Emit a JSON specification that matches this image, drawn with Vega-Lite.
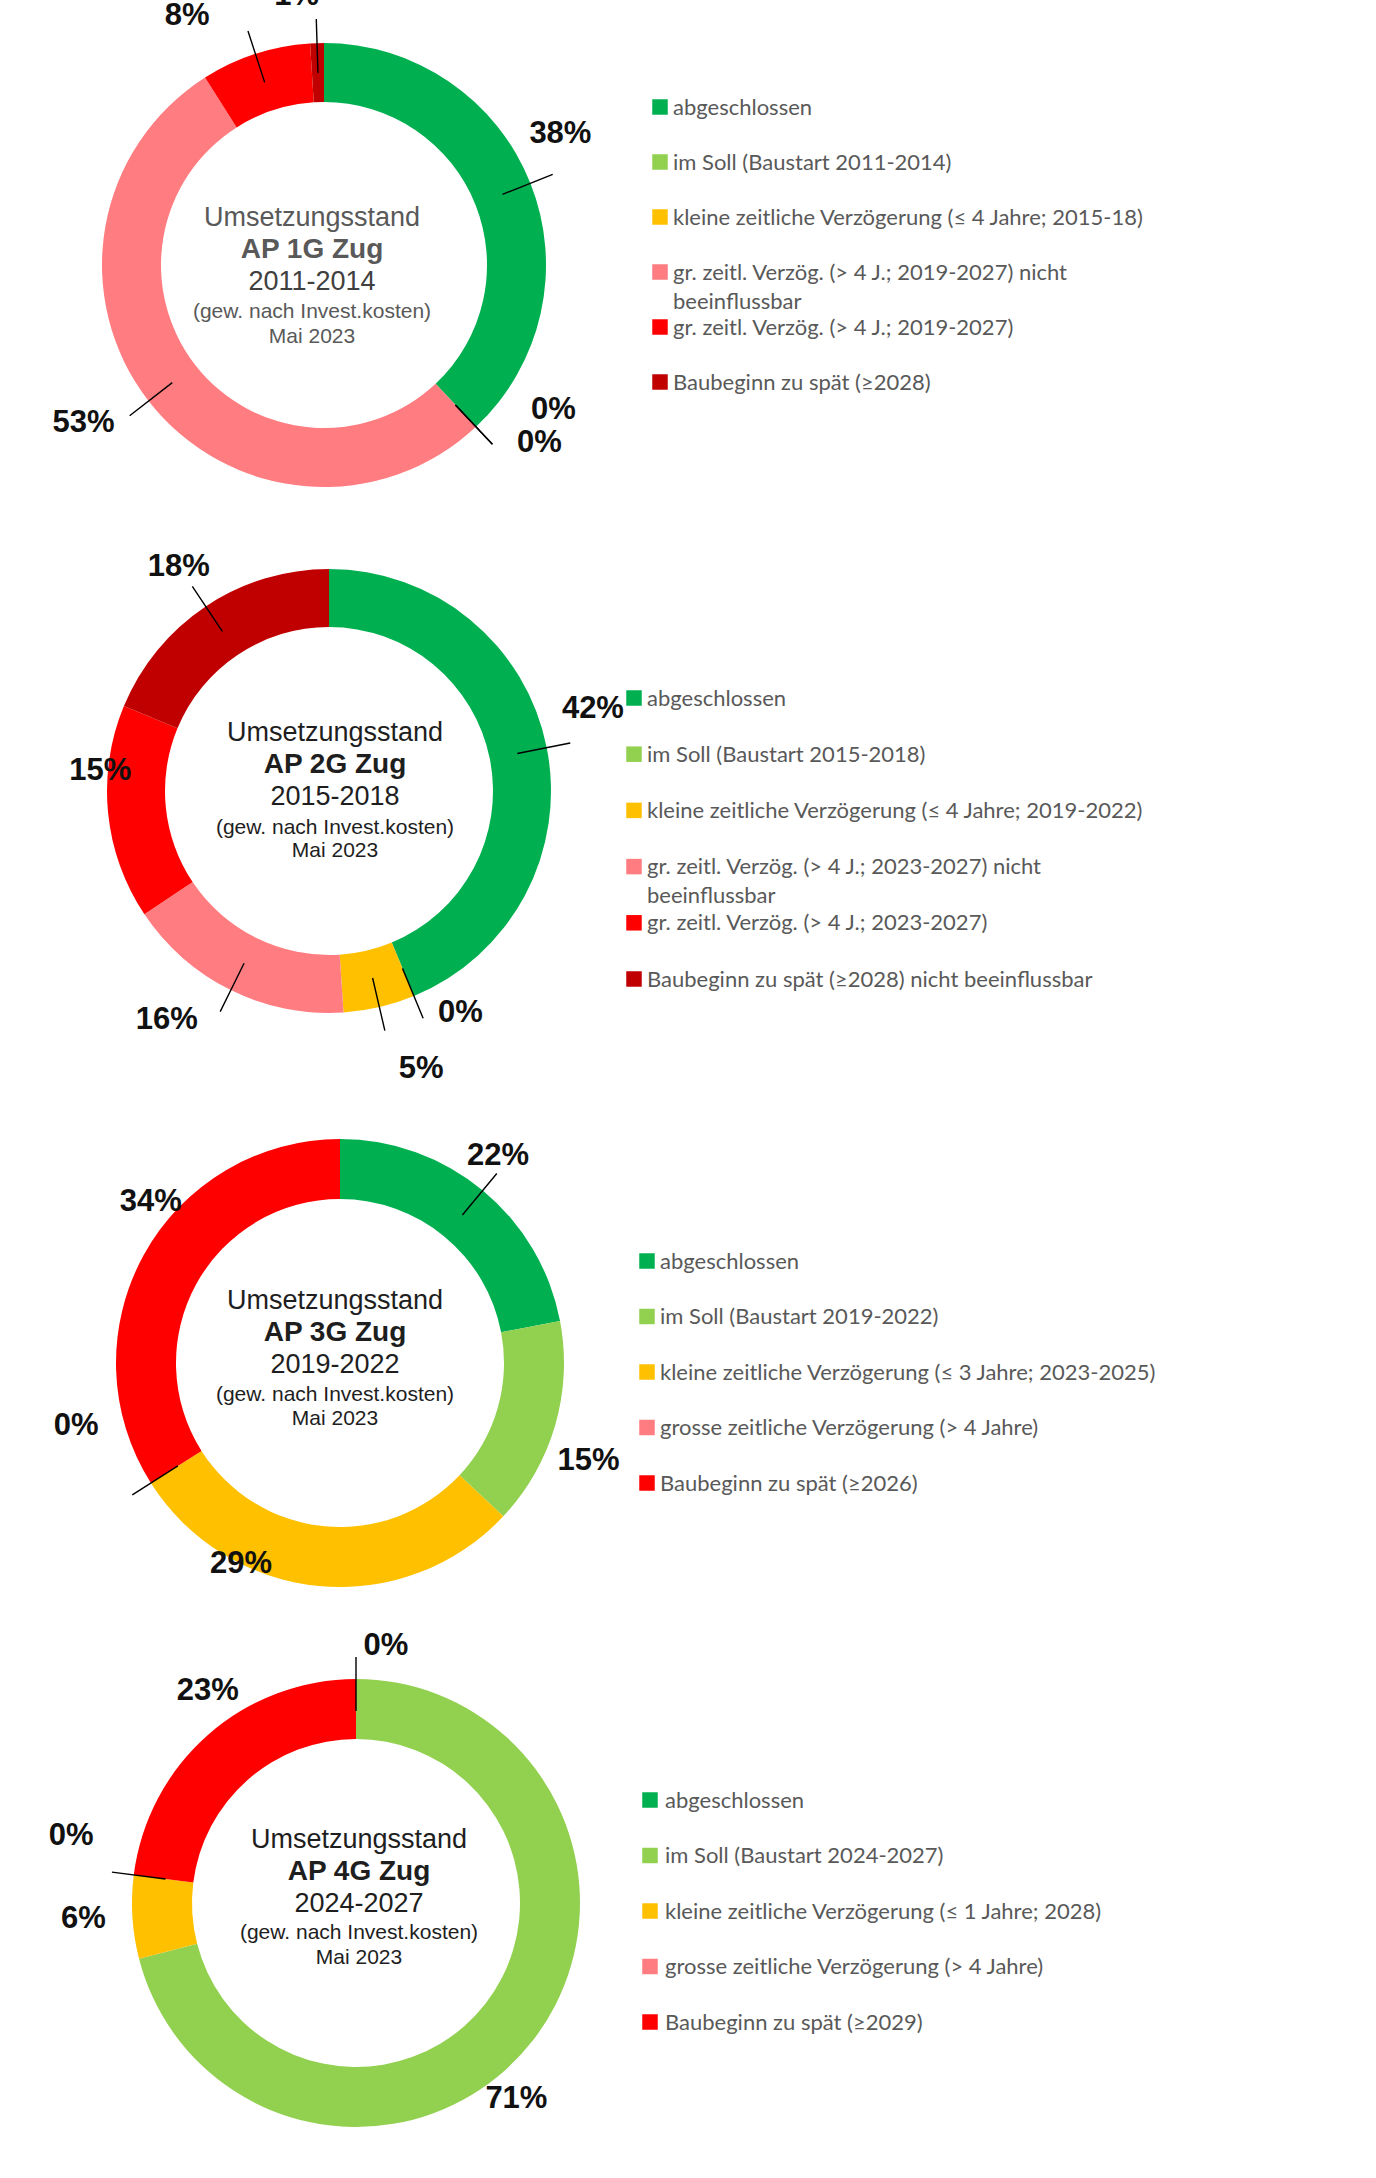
{
  "$schema": "https://vega.github.io/schema/vega-lite/v6.json",
  "background": "white",
  "padding": 0,
  "bounds": "flush",
  "spacing": 0,
  "config": {"view": {"stroke": null}, "concat": {"spacing": 0}},
  "resolve": {"scale": {"color": "independent", "theta": "independent", "y": "independent"}},
  "datasets": {
    "p1": [
      {"o": 1, "k": "abgeschlossen", "v": 38, "pct": "38%", "label": "abgeschlossen"},
      {"o": 2, "k": "im Soll", "v": 0, "pct": "0%", "label": "im Soll (Baustart 2011-2014)"},
      {"o": 3, "k": "kleine Verzögerung", "v": 0, "pct": "0%", "label": "kleine zeitliche Verzögerung (≤ 4 Jahre; 2015-18)"},
      {"o": 4, "k": "grosse Verzögerung nicht beeinflussbar", "v": 53, "pct": "53%", "label": "gr. zeitl. Verzög. (> 4 J.; 2019-2027) nicht\nbeeinflussbar"},
      {"o": 5, "k": "grosse Verzögerung", "v": 8, "pct": "8%", "label": "gr. zeitl. Verzög. (> 4 J.; 2019-2027)"},
      {"o": 6, "k": "Baubeginn zu spät", "v": 1, "pct": "1%", "label": "Baubeginn zu spät (≥2028)"}
    ],
    "p2": [
      {"o": 1, "k": "abgeschlossen", "v": 42, "pct": "42%", "label": "abgeschlossen"},
      {"o": 2, "k": "im Soll", "v": 0, "pct": "0%", "label": "im Soll (Baustart 2015-2018)"},
      {"o": 3, "k": "kleine Verzögerung", "v": 5, "pct": "5%", "label": "kleine zeitliche Verzögerung (≤ 4 Jahre; 2019-2022)"},
      {"o": 4, "k": "grosse Verzögerung nicht beeinflussbar", "v": 16, "pct": "16%", "label": "gr. zeitl. Verzög. (> 4 J.; 2023-2027) nicht\nbeeinflussbar"},
      {"o": 5, "k": "grosse Verzögerung", "v": 15, "pct": "15%", "label": "gr. zeitl. Verzög. (> 4 J.; 2023-2027)"},
      {"o": 6, "k": "Baubeginn zu spät", "v": 18, "pct": "18%", "label": "Baubeginn zu spät (≥2028) nicht beeinflussbar"}
    ],
    "p3": [
      {"o": 1, "k": "abgeschlossen", "v": 22, "pct": "22%", "label": "abgeschlossen"},
      {"o": 2, "k": "im Soll", "v": 15, "pct": "15%", "label": "im Soll (Baustart 2019-2022)"},
      {"o": 3, "k": "kleine Verzögerung", "v": 29, "pct": "29%", "label": "kleine zeitliche Verzögerung (≤ 3 Jahre; 2023-2025)"},
      {"o": 4, "k": "grosse Verzögerung", "v": 0, "pct": "0%", "label": "grosse zeitliche Verzögerung (> 4 Jahre)"},
      {"o": 5, "k": "Baubeginn zu spät", "v": 34, "pct": "34%", "label": "Baubeginn zu spät (≥2026)"}
    ],
    "p4": [
      {"o": 1, "k": "abgeschlossen", "v": 0, "pct": "0%", "label": "abgeschlossen"},
      {"o": 2, "k": "im Soll", "v": 71, "pct": "71%", "label": "im Soll (Baustart 2024-2027)"},
      {"o": 3, "k": "kleine Verzögerung", "v": 6, "pct": "6%", "label": "kleine zeitliche Verzögerung (≤ 1 Jahre; 2028)"},
      {"o": 4, "k": "grosse Verzögerung", "v": 0, "pct": "0%", "label": "grosse zeitliche Verzögerung (> 4 Jahre)"},
      {"o": 5, "k": "Baubeginn zu spät", "v": 23, "pct": "23%", "label": "Baubeginn zu spät (≥2029)"}
    ]
  },
  "vconcat": [
    {
      "width": 1376, "height": 530,
      "data": {"name": "p1"},
      "encoding": {
        "color": {"field": "k", "type": "nominal", "legend": null,
          "scale": {"domain": ["abgeschlossen", "im Soll", "kleine Verzögerung", "grosse Verzögerung nicht beeinflussbar", "grosse Verzögerung", "Baubeginn zu spät"],
                    "range": ["#00B050", "#92D050", "#FFC000", "#FF7C80", "#FF0000", "#C00000"]}}
      },
      "layer": [
        {"mark": {"type": "arc", "x": 324, "innerRadius": 163, "outerRadius": 222},
         "encoding": {"theta": {"field": "v", "type": "quantitative", "stack": true}, "order": {"field": "o", "type": "quantitative"}}},
        {"transform": [{"stack": "v", "groupby": [], "sort": [{"field": "o", "order": "ascending"}], "as": ["s0", "s1"]}],
         "mark": {"type": "arc", "x": 324, "innerRadius": 192, "outerRadius": 246, "fillOpacity": 0, "stroke": "#000000", "strokeWidth": 1.4,
                  "thetaOffset": {"expr": "(datum.s1 - datum.s0) / 100 * PI"},
                  "theta2Offset": {"expr": "-(datum.s1 - datum.s0) / 100 * PI"}},
         "encoding": {"theta": {"field": "s0", "type": "quantitative", "stack": null}, "theta2": {"field": "s1"}, "color": {"value": "#000000"}}},
        {"mark": {"type": "text", "x": 324, "radius": 265, "clip": true, "font": "Liberation Sans", "fontSize": 31, "fontWeight": "bold", "align": "center", "baseline": "middle",
                  "dx": {"expr": "datum.o==1?-10:datum.o==2?48:datum.o==3?34:datum.o==4?-31:datum.o==5?-55:-19"},
                  "dy": {"expr": "datum.o==1?-33:datum.o==2?-48:datum.o==3?-15:datum.o==4?-4:datum.o==5?3:-4"}},
         "encoding": {"theta": {"field": "v", "type": "quantitative", "stack": true}, "order": {"field": "o", "type": "quantitative"}, "text": {"field": "pct"}, "color": {"value": "#111111"}}},
        {"data": {"values": [{"t": "Umsetzungsstand"}]}, "mark": {"type": "text", "x": 312, "dy": -47, "font": "Liberation Sans", "fontSize": 27, "baseline": "middle"}, "encoding": {"text": {"field": "t"}, "color": {"value": "#595959"}}},
        {"data": {"values": [{"t": "AP 1G Zug"}]}, "mark": {"type": "text", "x": 312, "dy": -15, "font": "Liberation Sans", "fontSize": 28, "fontWeight": "bold", "baseline": "middle"}, "encoding": {"text": {"field": "t"}, "color": {"value": "#595959"}}},
        {"data": {"values": [{"t": "2011-2014"}]}, "mark": {"type": "text", "x": 312, "dy": 17, "font": "Liberation Sans", "fontSize": 27, "baseline": "middle"}, "encoding": {"text": {"field": "t"}, "color": {"value": "#404040"}}},
        {"data": {"values": [{"t": "(gew. nach Invest.kosten)"}]}, "mark": {"type": "text", "x": 312, "dy": 47, "font": "Liberation Sans", "fontSize": 21, "baseline": "middle"}, "encoding": {"text": {"field": "t"}, "color": {"value": "#595959"}}},
        {"data": {"values": [{"t": "Mai 2023"}]}, "mark": {"type": "text", "x": 312, "dy": 72, "font": "Liberation Sans", "fontSize": 21, "baseline": "middle"}, "encoding": {"text": {"field": "t"}, "color": {"value": "#595959"}}},
        {"mark": {"type": "square", "x": 660, "size": 240, "opacity": 1},
         "encoding": {"y": {"field": "o", "type": "ordinal", "axis": null, "scale": {"type": "point", "padding": 0, "range": [107, 382]}}}},
        {"mark": {"type": "text", "x": 673, "align": "left", "baseline": "alphabetic", "dy": 7.5, "font": "Lato", "fontSize": 22, "lineBreak": "\n", "lineHeight": 29},
         "encoding": {"y": {"field": "o", "type": "ordinal", "axis": null, "scale": {"type": "point", "padding": 0, "range": [107, 382]}}, "text": {"field": "label"}, "color": {"value": "#595959"}}}
      ]
    },
    {
      "width": 1376, "height": 522,
      "data": {"name": "p2"},
      "encoding": {
        "color": {"field": "k", "type": "nominal", "legend": null,
          "scale": {"domain": ["abgeschlossen", "im Soll", "kleine Verzögerung", "grosse Verzögerung nicht beeinflussbar", "grosse Verzögerung", "Baubeginn zu spät"],
                    "range": ["#00B050", "#92D050", "#FFC000", "#FF7C80", "#FF0000", "#C00000"]}}
      },
      "layer": [
        {"mark": {"type": "arc", "x": 329, "innerRadius": 164, "outerRadius": 222},
         "encoding": {"theta": {"field": "v", "type": "quantitative", "stack": true}, "order": {"field": "o", "type": "quantitative"}}},
        {"transform": [{"stack": "v", "groupby": [], "sort": [{"field": "o", "order": "ascending"}], "as": ["s0", "s1"]}],
         "mark": {"type": "arc", "x": 329, "innerRadius": 192, "outerRadius": 246, "fillOpacity": 0, "stroke": "#000000", "strokeWidth": 1.4,
                  "strokeOpacity": {"expr": "datum.o==5?0:1"},
                  "thetaOffset": {"expr": "(datum.s1 - datum.s0) / 96 * PI"},
                  "theta2Offset": {"expr": "-(datum.s1 - datum.s0) / 96 * PI"}},
         "encoding": {"theta": {"field": "s0", "type": "quantitative", "stack": null}, "theta2": {"field": "s1"}, "color": {"value": "#000000"}}},
        {"mark": {"type": "text", "x": 329, "radius": 265, "font": "Liberation Sans", "fontSize": 31, "fontWeight": "bold", "align": "center", "baseline": "middle",
                  "dx": {"expr": "datum.o==1?4:datum.o==2?30:datum.o==3?32:datum.o==4?-45:datum.o==5?35:-3"},
                  "dy": {"expr": "datum.o==1?-30:datum.o==2?-23:datum.o==3?20:datum.o==4?-9:datum.o==5?-46:-4"}},
         "encoding": {"theta": {"field": "v", "type": "quantitative", "stack": true}, "order": {"field": "o", "type": "quantitative"}, "text": {"field": "pct"}, "color": {"value": "#111111"}}},
        {"data": {"values": [{"t": "Umsetzungsstand"}]}, "mark": {"type": "text", "x": 335, "dy": -58, "font": "Liberation Sans", "fontSize": 27, "baseline": "middle"}, "encoding": {"text": {"field": "t"}, "color": {"value": "#1e1e1e"}}},
        {"data": {"values": [{"t": "AP 2G Zug"}]}, "mark": {"type": "text", "x": 335, "dy": -26, "font": "Liberation Sans", "fontSize": 28, "fontWeight": "bold", "baseline": "middle"}, "encoding": {"text": {"field": "t"}, "color": {"value": "#1e1e1e"}}},
        {"data": {"values": [{"t": "2015-2018"}]}, "mark": {"type": "text", "x": 335, "dy": 6, "font": "Liberation Sans", "fontSize": 27, "baseline": "middle"}, "encoding": {"text": {"field": "t"}, "color": {"value": "#1e1e1e"}}},
        {"data": {"values": [{"t": "(gew. nach Invest.kosten)"}]}, "mark": {"type": "text", "x": 335, "dy": 37, "font": "Liberation Sans", "fontSize": 21, "baseline": "middle"}, "encoding": {"text": {"field": "t"}, "color": {"value": "#1e1e1e"}}},
        {"data": {"values": [{"t": "Mai 2023"}]}, "mark": {"type": "text", "x": 335, "dy": 60, "font": "Liberation Sans", "fontSize": 21, "baseline": "middle"}, "encoding": {"text": {"field": "t"}, "color": {"value": "#1e1e1e"}}},
        {"mark": {"type": "square", "x": 634, "size": 240, "opacity": 1},
         "encoding": {"y": {"field": "o", "type": "ordinal", "axis": null, "scale": {"type": "point", "padding": 0, "range": [168, 449]}}}},
        {"mark": {"type": "text", "x": 647, "align": "left", "baseline": "alphabetic", "dy": 7.5, "font": "Lato", "fontSize": 22, "lineBreak": "\n", "lineHeight": 29},
         "encoding": {"y": {"field": "o", "type": "ordinal", "axis": null, "scale": {"type": "point", "padding": 0, "range": [168, 449]}}, "text": {"field": "label"}, "color": {"value": "#595959"}}}
      ]
    },
    {
      "width": 1376, "height": 622,
      "data": {"name": "p3"},
      "encoding": {
        "color": {"field": "k", "type": "nominal", "legend": null,
          "scale": {"domain": ["abgeschlossen", "im Soll", "kleine Verzögerung", "grosse Verzögerung", "Baubeginn zu spät"],
                    "range": ["#00B050", "#92D050", "#FFC000", "#FF7C80", "#FF0000"]}}
      },
      "layer": [
        {"mark": {"type": "arc", "x": 340, "innerRadius": 164, "outerRadius": 224},
         "encoding": {"theta": {"field": "v", "type": "quantitative", "stack": true}, "order": {"field": "o", "type": "quantitative"}}},
        {"transform": [{"stack": "v", "groupby": [], "sort": [{"field": "o", "order": "ascending"}], "as": ["s0", "s1"]}],
         "mark": {"type": "arc", "x": 340, "innerRadius": 192, "outerRadius": 246, "fillOpacity": 0, "stroke": "#000000", "strokeWidth": 1.4,
                  "strokeOpacity": {"expr": "datum.o==1||datum.o==4?1:0"},
                  "thetaOffset": {"expr": "(datum.s1 - datum.s0) / 100 * PI"},
                  "theta2Offset": {"expr": "-(datum.s1 - datum.s0) / 100 * PI"}},
         "encoding": {"theta": {"field": "s0", "type": "quantitative", "stack": null}, "theta2": {"field": "s1"}, "color": {"value": "#000000"}}},
        {"mark": {"type": "text", "x": 340, "radius": 265, "font": "Liberation Sans", "fontSize": 31, "fontWeight": "bold", "align": "center", "baseline": "middle",
                  "dx": {"expr": "datum.o==1?-11:datum.o==2?-6:datum.o==3?-74:datum.o==4?-40:43"},
                  "dy": {"expr": "datum.o==1?-3:datum.o==2?24:datum.o==3?-63:datum.o==4?-79:-33"}},
         "encoding": {"theta": {"field": "v", "type": "quantitative", "stack": true}, "order": {"field": "o", "type": "quantitative"}, "text": {"field": "pct"}, "color": {"value": "#111111"}}},
        {"data": {"values": [{"t": "Umsetzungsstand"}]}, "mark": {"type": "text", "x": 335, "dy": -62, "font": "Liberation Sans", "fontSize": 27, "baseline": "middle"}, "encoding": {"text": {"field": "t"}, "color": {"value": "#1e1e1e"}}},
        {"data": {"values": [{"t": "AP 3G Zug"}]}, "mark": {"type": "text", "x": 335, "dy": -30, "font": "Liberation Sans", "fontSize": 28, "fontWeight": "bold", "baseline": "middle"}, "encoding": {"text": {"field": "t"}, "color": {"value": "#1e1e1e"}}},
        {"data": {"values": [{"t": "2019-2022"}]}, "mark": {"type": "text", "x": 335, "dy": 2, "font": "Liberation Sans", "fontSize": 27, "baseline": "middle"}, "encoding": {"text": {"field": "t"}, "color": {"value": "#1e1e1e"}}},
        {"data": {"values": [{"t": "(gew. nach Invest.kosten)"}]}, "mark": {"type": "text", "x": 335, "dy": 32, "font": "Liberation Sans", "fontSize": 21, "baseline": "middle"}, "encoding": {"text": {"field": "t"}, "color": {"value": "#1e1e1e"}}},
        {"data": {"values": [{"t": "Mai 2023"}]}, "mark": {"type": "text", "x": 335, "dy": 56, "font": "Liberation Sans", "fontSize": 21, "baseline": "middle"}, "encoding": {"text": {"field": "t"}, "color": {"value": "#1e1e1e"}}},
        {"mark": {"type": "square", "x": 647, "size": 240, "opacity": 1},
         "encoding": {"y": {"field": "o", "type": "ordinal", "axis": null, "scale": {"type": "point", "padding": 0, "range": [209, 431]}}}},
        {"mark": {"type": "text", "x": 660, "align": "left", "baseline": "alphabetic", "dy": 7.5, "font": "Lato", "fontSize": 22, "lineBreak": "\n", "lineHeight": 29},
         "encoding": {"y": {"field": "o", "type": "ordinal", "axis": null, "scale": {"type": "point", "padding": 0, "range": [209, 431]}}, "text": {"field": "label"}, "color": {"value": "#595959"}}}
      ]
    },
    {
      "width": 1376, "height": 458,
      "data": {"name": "p4"},
      "encoding": {
        "color": {"field": "k", "type": "nominal", "legend": null,
          "scale": {"domain": ["abgeschlossen", "im Soll", "kleine Verzögerung", "grosse Verzögerung", "Baubeginn zu spät"],
                    "range": ["#00B050", "#92D050", "#FFC000", "#FF7C80", "#FF0000"]}}
      },
      "layer": [
        {"mark": {"type": "arc", "x": 356, "innerRadius": 164, "outerRadius": 224},
         "encoding": {"theta": {"field": "v", "type": "quantitative", "stack": true}, "order": {"field": "o", "type": "quantitative"}}},
        {"transform": [{"stack": "v", "groupby": [], "sort": [{"field": "o", "order": "ascending"}], "as": ["s0", "s1"]}],
         "mark": {"type": "arc", "x": 356, "innerRadius": 192, "outerRadius": 246, "fillOpacity": 0, "stroke": "#000000", "strokeWidth": 1.4,
                  "strokeOpacity": {"expr": "datum.o==1||datum.o==4?1:0"},
                  "thetaOffset": {"expr": "(datum.s1 - datum.s0) / 100 * PI"},
                  "theta2Offset": {"expr": "-(datum.s1 - datum.s0) / 100 * PI"}},
         "encoding": {"theta": {"field": "s0", "type": "quantitative", "stack": null}, "theta2": {"field": "s1"}, "color": {"value": "#000000"}}},
        {"mark": {"type": "text", "x": 356, "radius": 265, "font": "Liberation Sans", "fontSize": 31, "fontWeight": "bold", "align": "center", "baseline": "middle",
                  "dx": {"expr": "datum.o==1?30:datum.o==2?-49:datum.o==3?-8:datum.o==4?-22:27"},
                  "dy": {"expr": "datum.o==1?8:datum.o==2?34:datum.o==3?-1:datum.o==4?-34:-13"}},
         "encoding": {"theta": {"field": "v", "type": "quantitative", "stack": true}, "order": {"field": "o", "type": "quantitative"}, "text": {"field": "pct"}, "color": {"value": "#111111"}}},
        {"data": {"values": [{"t": "Umsetzungsstand"}]}, "mark": {"type": "text", "x": 359, "dy": -63, "font": "Liberation Sans", "fontSize": 27, "baseline": "middle"}, "encoding": {"text": {"field": "t"}, "color": {"value": "#1e1e1e"}}},
        {"data": {"values": [{"t": "AP 4G Zug"}]}, "mark": {"type": "text", "x": 359, "dy": -31, "font": "Liberation Sans", "fontSize": 28, "fontWeight": "bold", "baseline": "middle"}, "encoding": {"text": {"field": "t"}, "color": {"value": "#1e1e1e"}}},
        {"data": {"values": [{"t": "2024-2027"}]}, "mark": {"type": "text", "x": 359, "dy": 1, "font": "Liberation Sans", "fontSize": 27, "baseline": "middle"}, "encoding": {"text": {"field": "t"}, "color": {"value": "#1e1e1e"}}},
        {"data": {"values": [{"t": "(gew. nach Invest.kosten)"}]}, "mark": {"type": "text", "x": 359, "dy": 30, "font": "Liberation Sans", "fontSize": 21, "baseline": "middle"}, "encoding": {"text": {"field": "t"}, "color": {"value": "#1e1e1e"}}},
        {"data": {"values": [{"t": "Mai 2023"}]}, "mark": {"type": "text", "x": 359, "dy": 55, "font": "Liberation Sans", "fontSize": 21, "baseline": "middle"}, "encoding": {"text": {"field": "t"}, "color": {"value": "#1e1e1e"}}},
        {"mark": {"type": "square", "x": 650, "size": 240, "opacity": 1},
         "encoding": {"y": {"field": "o", "type": "ordinal", "axis": null, "scale": {"type": "point", "padding": 0, "range": [126, 348]}}}},
        {"mark": {"type": "text", "x": 665, "align": "left", "baseline": "alphabetic", "dy": 7.5, "font": "Lato", "fontSize": 22, "lineBreak": "\n", "lineHeight": 29},
         "encoding": {"y": {"field": "o", "type": "ordinal", "axis": null, "scale": {"type": "point", "padding": 0, "range": [126, 348]}}, "text": {"field": "label"}, "color": {"value": "#595959"}}}
      ]
    }
  ]
}
